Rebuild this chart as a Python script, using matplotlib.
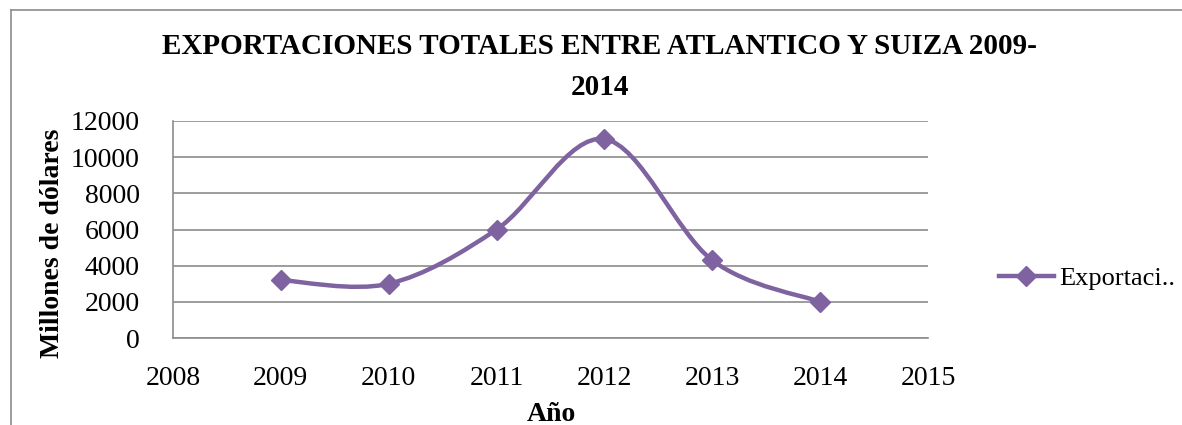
import numpy as np
import matplotlib.pyplot as plt
from matplotlib.path import Path
from matplotlib.patches import PathPatch
from matplotlib.lines import Line2D

# datos
anios = [2009, 2010, 2011, 2012, 2013, 2014]
exportaciones = [3200, 3000, 6000, 11000, 4300, 2000]
etiqueta_serie = 'Exportaci..'
titulo = 'EXPORTACIONES TOTALES ENTRE ATLANTICO Y SUIZA 2009-\n2014'

color = '#7F63A1'
gris = '#8C8C8C'
fuente = 'Liberation Serif'

W, H = 1182, 425
fig = plt.figure(figsize=(W / 100, H / 100), dpi=100)
ax = fig.add_axes([173 / W, 1 - 338 / H, (928 - 173) / W, (338 - 121) / H])

# marco del gráfico (solo arriba e izquierda visibles)
top = 1 - 9.5 / H
left = 10.5 / W
fig.add_artist(Line2D([left, 1], [top, top], color=gris, linewidth=1.2, transform=fig.transFigure))
fig.add_artist(Line2D([left, left], [0, top], color=gris, linewidth=1.2, transform=fig.transFigure))

# curva suavizada (estilo Excel, Catmull-Rom -> Bezier)
x = np.array(anios, dtype=float)
y = np.array(exportaciones, dtype=float)
verts = [(x[0], y[0])]
codes = [Path.MOVETO]
for i in range(len(x) - 1):
    x0, y0 = (x[i - 1], y[i - 1]) if i > 0 else (x[i], y[i])
    x3, y3 = (x[i + 2], y[i + 2]) if i + 2 < len(x) else (x[i + 1], y[i + 1])
    c1 = (x[i] + (x[i + 1] - x0) / 6, y[i] + (y[i + 1] - y0) / 6)
    c2 = (x[i + 1] - (x3 - x[i]) / 6, y[i + 1] - (y3 - y[i]) / 6)
    verts += [c1, c2, (x[i + 1], y[i + 1])]
    codes += [Path.CURVE4] * 3
ax.add_patch(PathPatch(Path(verts, codes), fill=False, edgecolor=color, linewidth=3.2, capstyle='round', zorder=3))
ax.plot(x, y, linestyle='none', marker='D', markersize=10, color=color, zorder=4)

ax.set_xlim(2008, 2015)
ax.set_ylim(0, 12000)
ax.set_xticks(range(2008, 2016))
ax.set_yticks(range(0, 12001, 2000))
ax.grid(axis='y', color=gris, linewidth=1.2)
ax.set_axisbelow(True)
for lado in ['top', 'right']:
    ax.spines[lado].set_visible(False)
for lado in ['left', 'bottom']:
    ax.spines[lado].set_color(gris)
    ax.spines[lado].set_linewidth(1.2)
ax.tick_params(axis='y', length=0, labelsize=20, pad=24)
ax.tick_params(axis='x', length=0, labelsize=20, pad=20)
for t in ax.get_xticklabels() + ax.get_yticklabels():
    t.set_fontfamily(fuente)

fig.text(53 / W, 1 - 243 / H, 'Millones de dólares', rotation=90, ha='center', va='center',
         fontsize=20, fontweight='bold', fontfamily=fuente)
fig.text(551 / W, 1 - 421 / H, 'Año', ha='center', va='baseline',
         fontsize=20, fontweight='bold', fontfamily=fuente)
fig.text(600 / W, 1 - 67 / H, titulo, ha='center', va='center', fontsize=21, fontweight='bold',
         fontfamily=fuente, linespacing=1.62)

h = Line2D([], [], color=color, linewidth=3.2, marker='D', markersize=10)
fig.legend([h], [etiqueta_serie], loc='center left', bbox_to_anchor=(975 / W, 1 - 278 / H),
           frameon=False, prop={'family': fuente, 'size': 19}, handlelength=2.1, handletextpad=0.2)

fig.savefig('out.png', dpi=100)
